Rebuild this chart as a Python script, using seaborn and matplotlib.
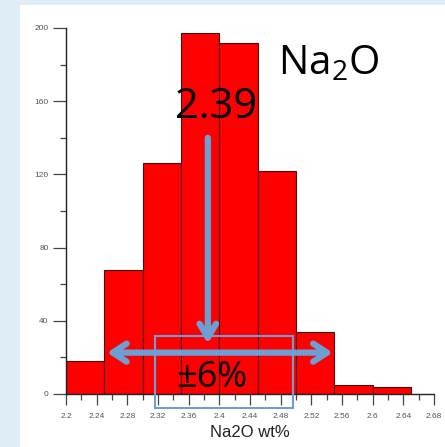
import numpy as np
import pandas as pd
import matplotlib
matplotlib.use("Agg")
import matplotlib.pyplot as plt
from matplotlib.patches import Rectangle
from matplotlib.ticker import MultipleLocator
import seaborn as sns

# ---- data ----
bin_edges = [2.20, 2.25, 2.30, 2.35, 2.40, 2.45, 2.50, 2.55, 2.60, 2.65]
counts = [18, 68, 126, 197, 192, 122, 34, 5, 4]
x_ticks = [2.2, 2.24, 2.28, 2.32, 2.36, 2.4, 2.44, 2.48, 2.52, 2.56, 2.6, 2.64, 2.68]
x_tick_labels = ["2.2", "2.24", "2.28", "2.32", "2.36", "2.4", "2.44", "2.48",
                 "2.52", "2.56", "2.6", "2.64", "2.68"]
y_ticks = [0, 40, 80, 120, 160, 200]
mean_value = "2.39"
spread_label = "±6%"

sns.set_style("white")
plt.rcParams["font.family"] = ["Liberation Sans", "DejaVu Sans"]
plt.rcParams["mathtext.fontset"] = "custom"
plt.rcParams["mathtext.rm"] = "Open Sans"

centers = [(a + b) / 2 for a, b in zip(bin_edges[:-1], bin_edges[1:])]
df = pd.DataFrame({"x": centers, "w": counts})

fig = plt.figure(figsize=(4.45, 4.47), dpi=100, facecolor="#deedf6")
bg = fig.add_axes([20 / 445, 0, 1 - 20 / 445, 1 - 5 / 447], zorder=-10)
bg.set_facecolor("white")
bg.axis("off")
bg.add_patch(Rectangle((0, 0), 1, 1, transform=bg.transAxes, facecolor="white",
                       edgecolor="none"))

ax = fig.add_axes([66 / 445, 1 - 394 / 447, 368 / 445, 366 / 447], zorder=1)
ax.set_facecolor("none")
sns.histplot(data=df, x="x", weights="w", bins=bin_edges, color="#ff0000",
             edgecolor="#4a0c0c", linewidth=0.8, alpha=1, ax=ax)

ax.set_xlim(2.2, 2.68)
ax.set_ylim(0, 200)
ax.set_xticks(x_ticks)
ax.set_xticklabels(x_tick_labels)
ax.set_yticks(y_ticks)
ax.xaxis.set_minor_locator(MultipleLocator(0.02))
ax.yaxis.set_minor_locator(MultipleLocator(20))
for s in ["top", "right"]:
    ax.spines[s].set_visible(False)
for s in ["left", "bottom"]:
    ax.spines[s].set_color("#222222")
    ax.spines[s].set_linewidth(1.0)
ax.tick_params(axis="y", which="major", direction="out", length=9.5, width=0.9,
               color="#444444", labelsize=6, labelcolor="#555555", pad=3, left=True)
ax.tick_params(axis="y", which="minor", direction="out", length=4.5, width=0.9,
               color="#444444", left=True)
ax.tick_params(axis="x", which="major", direction="out", length=8, width=0.9,
               color="#444444", labelsize=6, labelcolor="#555555", pad=6, bottom=True)
ax.tick_params(axis="x", which="minor", direction="out", length=4.5, width=0.9,
               color="#444444", bottom=True)
ax.set_ylabel("")
ax.set_xlabel("Na2O wt%", fontsize=12, color="#222222", labelpad=3)

blue = "#6e9fd4"
# vertical arrow
ax.annotate("", xy=(2.385, 27.5), xytext=(2.385, 140),
            arrowprops=dict(arrowstyle="->,head_length=1.0,head_width=0.6",
                            lw=4.5, color=blue, shrinkA=0, shrinkB=0),
            annotation_clip=False)
# horizontal double arrow
ax.annotate("", xy=(2.2535, 22.6), xytext=(2.548, 22.6),
            arrowprops=dict(arrowstyle="<->,head_length=1.0,head_width=0.65",
                            lw=4.5, color=blue, shrinkA=0, shrinkB=0),
            annotation_clip=False)
# rectangle
ax.add_patch(Rectangle((2.316, -7.6), 0.18, 39.5, facecolor="none",
                       edgecolor=blue, lw=1.5, clip_on=False, zorder=5))

ax.text(2.39, 8.5, spread_label, fontsize=26, family="Open Sans", ha="center",
        va="center", color="black", zorder=6)
ax.text(2.3955, 157, mean_value, fontsize=30, family="Open Sans", ha="center",
        va="center", color="black", zorder=6)
ax.text(2.4765, 180, r"Na$_2$O", fontsize=29, family="Open Sans", ha="left",
        va="center", color="black", zorder=6)

fig.savefig("out.png", dpi=100, facecolor=fig.get_facecolor())
